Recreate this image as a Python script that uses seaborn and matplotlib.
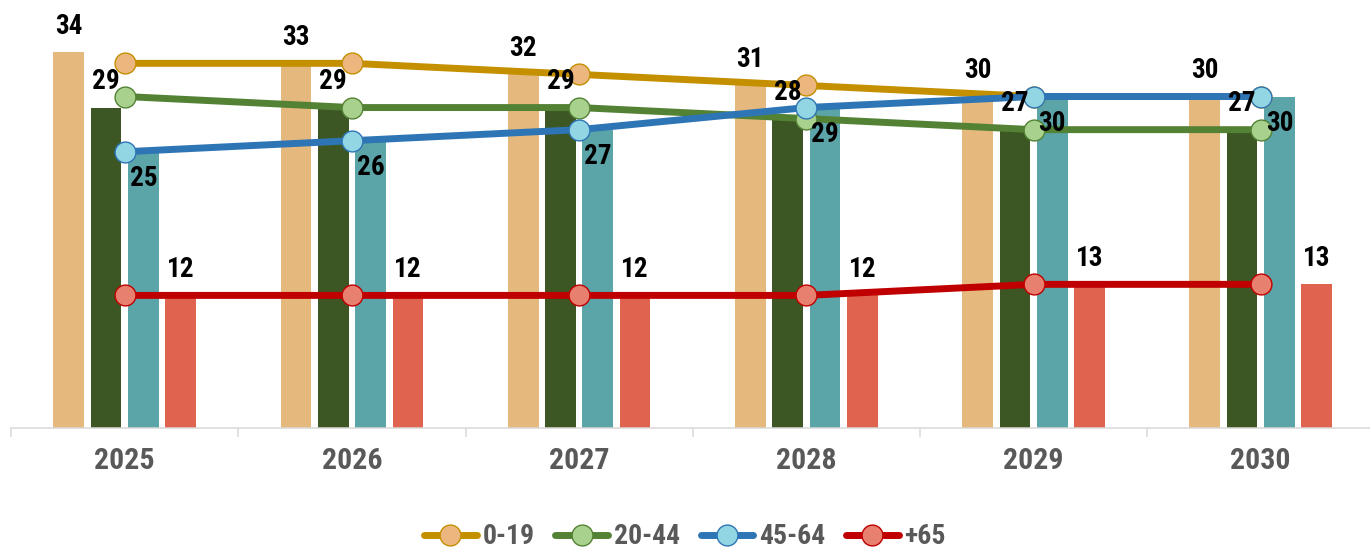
import numpy as np
import pandas as pd
import matplotlib
matplotlib.use("Agg")
import matplotlib.pyplot as plt
from matplotlib.lines import Line2D
from matplotlib import font_manager as fm
import seaborn as sns

# ---- data -------------------------------------------------------------
years = ["2025", "2026", "2027", "2028", "2029", "2030"]
groups = ["0-19", "20-44", "45-64", "+65"]

# bar values (labelled)
bar_0_19 = [34, 33, 32, 31, 30, 30]
bar_20_44 = [29, 29, 29, 28, 27, 27]
bar_45_64 = [25, 26, 27, 29, 30, 30]
bar_65 = [12, 12, 12, 12, 13, 13]

# line series
line_0_19 = [33, 33, 32, 31, 30, 30]
line_20_44 = [30, 29, 29, 28, 27, 27]
line_45_64 = [25, 26, 27, 29, 30, 30]
line_65 = [12, 12, 12, 12, 13, 13]

# ---- styling ----------------------------------------------------------
bar_colors = ["#E5B97D", "#3C5724", "#5BA5A9", "#E06350"]
line_colors = ["#C49000", "#548235", "#2E75B6", "#C00000"]
marker_fill = ["#EBB77F", "#A9D18E", "#92D5E3", "#E88070"]
axis_gray = "#D9D9D9"
text_gray = "#595959"
line_w = 5.0

sns.set_theme(style="white")

# condensed sans for all text, first one installed wins
installed = {f.name for f in fm.fontManager.ttflist}
preferred = ["Roboto Condensed", "Barlow Semi Condensed", "Archivo Narrow",
             "PT Sans Narrow", "Liberation Sans Narrow", "Barlow Condensed",
             "Oswald"]
family = next((n for n in preferred if n in installed), "DejaVu Sans")
plt.rcParams["font.family"] = [family, "DejaVu Sans"]

W, H = 1370, 551
fig = plt.figure(figsize=(W / 100, H / 100), dpi=100)
fig.patch.set_facecolor("white")

# axes geometry (pixels): categories span 11..1374, baseline at y=428
x_left, x_right = 11.2, 1374.3
y_base = 428.0
px_per_unit = 11.05
ax = fig.add_axes([x_left / W, (H - y_base) / H,
                   (x_right - x_left) / W, y_base / H])
ax.set_facecolor("none")

# ---- bars -------------------------------------------------------------
bars = pd.DataFrame({"year": years, "0-19": bar_0_19, "20-44": bar_20_44,
                     "45-64": bar_45_64, "+65": bar_65})
bars = bars.melt(id_vars="year", var_name="group", value_name="value")

sns.barplot(data=bars, x="year", y="value", hue="group", hue_order=groups,
            order=years, palette=bar_colors, saturation=1, width=0.657,
            gap=0.177, errorbar=None, linewidth=0, legend=False, ax=ax,
            zorder=1)

label_kw = dict(fontsize=19.5, fontweight="bold", color="black", zorder=6)
for i, cont in enumerate(ax.containers):
    if i == 2:
        # 45-64 labels sit just inside the top of the bar
        ax.bar_label(cont, fmt="{:.0f}", padding=-29, **label_kw)
    else:
        ax.bar_label(cont, fmt="{:.0f}", padding=9, **label_kw)

# ---- lines ------------------------------------------------------------
pos = np.arange(len(years))
line_series = [line_0_19, line_20_44, line_45_64, line_65]
for vals, lc, fc in zip(line_series, line_colors, marker_fill):
    sns.lineplot(x=pos, y=vals, color=lc, linewidth=line_w, marker="o",
                 markersize=15, markerfacecolor=fc, markeredgecolor=lc,
                 markeredgewidth=1.0, solid_capstyle="round", ax=ax,
                 legend=False, zorder=3)

# ---- axes -------------------------------------------------------------
ax.set_xlim(-0.5, len(years) - 0.5)
ax.set_ylim(0, y_base / px_per_unit)
ax.set_xlabel("")
ax.set_ylabel("")
ax.set_yticks([])
for side in ["left", "right", "top"]:
    ax.spines[side].set_visible(False)
ax.spines["bottom"].set_color(axis_gray)
ax.spines["bottom"].set_linewidth(1.1)

ax.set_xticks(pos)
ax.set_xticklabels(years, fontsize=21.5, fontweight="bold", color=text_gray)
ax.set_xticks(np.arange(-0.5, len(years), 1.0), minor=True)
ax.tick_params(axis="x", which="major", length=0, pad=14)
ax.tick_params(axis="x", which="minor", length=6.5, width=1.1,
               color=axis_gray, bottom=True)

# ---- legend -----------------------------------------------------------
handles = [Line2D([], [], color=lc, linewidth=line_w, marker="o", markersize=15,
                  markerfacecolor=fc, markeredgecolor=lc, markeredgewidth=1.0,
                  solid_capstyle="round")
           for lc, fc in zip(line_colors, marker_fill)]
leg = fig.legend(handles, groups, loc="center", bbox_to_anchor=(0.5, 1 - 537 / H),
                 ncol=4, frameon=False, handlelength=1.9, handletextpad=0.2,
                 columnspacing=0.75, prop=dict(size=20, weight="bold"))
for t in leg.get_texts():
    t.set_color(text_gray)

fig.savefig("out.png", dpi=100, facecolor="white")
